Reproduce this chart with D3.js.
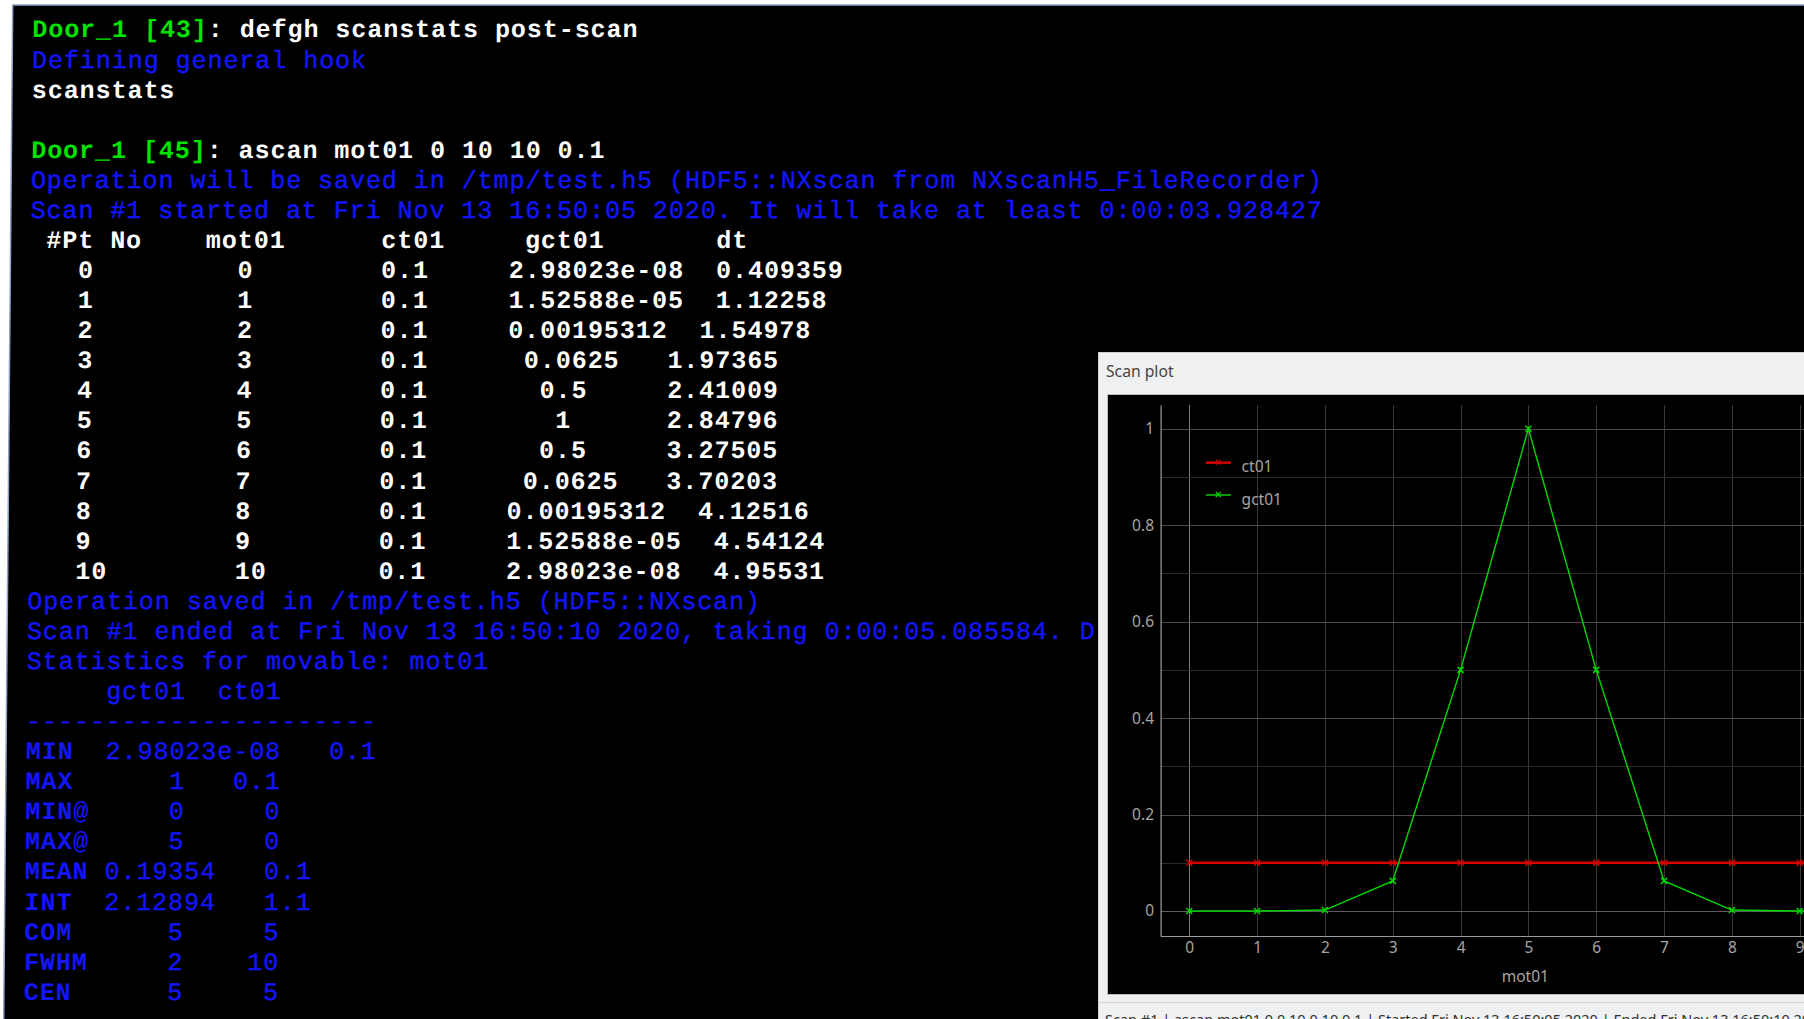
<!DOCTYPE html>
<html>
<head>
<meta charset="utf-8">
<script src="https://cdn.jsdelivr.net/npm/d3@7"></script>
<style>
  html, body { margin: 0; padding: 0; background: #ffffff; overflow: hidden; }
  svg { display: block; }
  .term text { font-family: "Liberation Mono", "DejaVu Sans Mono", monospace; font-size: 25px; letter-spacing: 0.95px; white-space: pre; }
  .g { fill: #00e400; font-weight: bold; }
  .w { fill: #ffffff; font-weight: bold; }
  .b { fill: #1414ff; stroke: #1414ff; stroke-width: 0.4px; }
  .bb { fill: #1414ff; font-weight: bold; }
  .ui { font-family: "Noto Sans", "Open Sans", sans-serif; }
</style>
</head>
<body>
<svg id="chart" width="1804" height="1019"></svg>
<script>
const W = 1804, H = 1019;

// ---- scan data (ascan mot01 0 10 10 0.1) ----
const pointNo  = [0, 1, 2, 3, 4, 5, 6, 7, 8, 9, 10];
const mot01    = [0, 1, 2, 3, 4, 5, 6, 7, 8, 9, 10];
const ct01Text = ["0.1", "0.1", "0.1", "0.1", "0.1", "0.1", "0.1", "0.1", "0.1", "0.1", "0.1"];
const gct01Text = ["2.98023e-08", "1.52588e-05", "0.00195312", "0.0625", "0.5", "1",
                   "0.5", "0.0625", "0.00195312", "1.52588e-05", "2.98023e-08"];
const dtText   = ["0.409359", "1.12258", "1.54978", "1.97365", "2.41009", "2.84796",
                  "3.27505", "3.70203", "4.12516", "4.54124", "4.95531"];
const ct01  = ct01Text.map(Number);
const gct01 = gct01Text.map(Number);

// ---- scanstats summary ----
const statNames = ["MIN", "MAX", "MIN@", "MAX@", "MEAN", "INT", "COM", "FWHM", "CEN"];
const statGct   = ["2.98023e-08", "1", "0", "5", "0.19354", "2.12894", "5", "2", "5"];
const statCt    = ["0.1", "0.1", "0", "0", "0.1", "1.1", "5", "10", "5"];

// ---- plot ticks ----
const xTicks = [0, 1, 2, 3, 4, 5, 6, 7, 8, 9];
const yTicks = [0, 0.2, 0.4, 0.6, 0.8, 1];
const yGrid  = [0, 0.1, 0.2, 0.3, 0.4, 0.5, 0.6, 0.7, 0.8, 0.9, 1];
const xGrid  = [0, 1, 2, 3, 4, 5, 6, 7, 8, 9, 10];

const svg = d3.select("#chart");

// ---------- terminal ----------
const center = (s, w) => {
  const pad = Math.max(0, w - s.length), l = Math.floor(pad / 2);
  return " ".repeat(l) + s + " ".repeat(pad - l);
};
const rjust = (s, w) => " ".repeat(Math.max(0, w - s.length)) + s;
const ljust = (s, w) => s + " ".repeat(Math.max(0, w - s.length));
const row = cells => cells.map(c => center(c, 8)).join("  ");

const lines = [];
lines.push([["Door_1 [43]", "g"], [": defgh scanstats post-scan", "w"]]);
lines.push([["Defining general hook", "b"]]);
lines.push([["scanstats", "w"]]);
lines.push([]);
lines.push([["Door_1 [45]", "g"], [": ascan mot01 0 10 10 0.1", "w"]]);
lines.push([["Operation will be saved in /tmp/test.h5 (HDF5::NXscan from NXscanH5_FileRecorder)", "b"]]);
lines.push([["Scan #1 started at Fri Nov 13 16:50:05 2020. It will take at least 0:00:03.928427", "b"]]);
lines.push([[row(["#Pt No", "mot01", "ct01", "gct01", "dt"]), "w"]]);
pointNo.forEach((p, i) => {
  lines.push([[row([String(p), String(mot01[i]), ct01Text[i], gct01Text[i], dtText[i]]), "w"]]);
});
lines.push([["Operation saved in /tmp/test.h5 (HDF5::NXscan)", "b"]]);
lines.push([["Scan #1 ended at Fri Nov 13 16:50:10 2020, taking 0:00:05.085584. D", "b"]]);
lines.push([["Statistics for movable: mot01", "b"]]);
const statRows = statNames.map((n, i) => ljust(n, 4) + " " + rjust(statGct[i], 5) + "  " + rjust(statCt[i], 4));
const statHead = ljust("", 4) + " " + rjust("gct01", 5) + "  " + rjust("ct01", 4);
lines.push([[statHead, "b"]]);
lines.push([["-".repeat(d3.max(statRows, r => r.length)), "b"]]);
statNames.forEach((n, i) => {
  lines.push([[ljust(n, 4), "bb"], [statRows[i].slice(4), "b"]]);
});

const term = svg.append("g").attr("class", "term").attr("transform", "skewX(-0.51)");
term.append("rect").attr("x", 12.75).attr("y", 5).attr("width", 2000).attr("height", 1100).attr("fill", "#000");
term.append("path").attr("d", "M12.75,1100V5H2000").attr("fill", "none").attr("stroke", "#8ea4c6").attr("stroke-width", 1.5);

const lineY = i => 37.5 + 30.07 * i;
const tl = term.selectAll("text.line").data(lines).join("text")
  .attr("class", "line")
  .attr("x", 32.6)
  .attr("y", (d, i) => lineY(i))
  .attr("xml:space", "preserve");
tl.selectAll("tspan").data(d => d).join("tspan")
  .attr("class", d => d[1])
  .text(d => d[0]);

// ---------- scan plot window ----------
const win = svg.append("g").attr("class", "ui");
win.append("rect").attr("x", 1098.5).attr("y", 352.5).attr("width", 800).attr("height", 800)
  .attr("fill", "#eff0f1").attr("stroke", "#cfd0d1");
win.append("text").attr("x", 1106).attr("y", 376.5).attr("font-size", 15.7).attr("fill", "#454545").text("Scan plot");

const plotTop = 394.5, plotBottom = 994.5, plotLeft = 1107.5;
win.append("rect").attr("x", plotLeft).attr("y", plotTop).attr("width", 800).attr("height", plotBottom - plotTop)
  .attr("fill", "#000").attr("stroke", "#bcbcbc");
win.append("line").attr("x1", 1099).attr("x2", W).attr("y1", 1002.5).attr("y2", 1002.5).attr("stroke", "#d3d4d5");
win.append("text").attr("x", 1105).attr("y", 1025).attr("font-size", 14.5).attr("fill", "#303030")
  .text("Scan #1 | ascan mot01 0.0 10.0 10 0.1 | Started Fri Nov 13 16:50:05 2020 | Ended Fri Nov 13 16:50:10 2020");

const x = d3.scaleLinear().domain([-0.423, 10.42]).range([1160.6, 1896]);
const y = d3.scaleLinear().domain([-0.0518, 1.0491]).range([936, 405]);

const plot = win.append("g");
plot.append("clipPath").attr("id", "pclip").append("rect")
  .attr("x", x.range()[0]).attr("y", y.range()[1])
  .attr("width", W - x.range()[0]).attr("height", y.range()[0] - y.range()[1]);

// grid
const grid = plot.append("g").attr("clip-path", "url(#pclip)");
grid.selectAll("line.v").data(xGrid).join("line").attr("class", "v")
  .attr("x1", d => Math.round(x(d)) + 0.5).attr("x2", d => Math.round(x(d)) + 0.5)
  .attr("y1", y.range()[1]).attr("y2", y.range()[0])
  .attr("stroke", d => d % 10 === 0 ? "#7e7e7e" : "#383838").attr("stroke-width", 1);
grid.selectAll("line.h").data(yGrid).join("line").attr("class", "h")
  .attr("x1", x.range()[0]).attr("x2", x.range()[1])
  .attr("y1", d => Math.round(y(d)) + 0.5).attr("y2", d => Math.round(y(d)) + 0.5)
  .attr("stroke", (d, i) => i === 0 ? "#5e5e5e" : (i % 2 === 0 ? "#4a4a4a" : "#2a2a2a")).attr("stroke-width", 1);

// axes
const axisStyle = g => {
  g.select(".domain").attr("stroke", "#9c9c9c").attr("stroke-width", 1.2);
  g.selectAll(".tick line").remove();
  g.selectAll(".tick text").attr("fill", "#a6a6a6").attr("font-size", 15.5)
    .attr("font-family", "'Noto Sans', 'Open Sans', sans-serif");
};
plot.append("g").attr("transform", `translate(${x.range()[0]},0)`)
  .call(d3.axisLeft(y).tickValues(yTicks).tickFormat(d3.format("~g")).tickSize(0).tickSizeOuter(0).tickPadding(6.6))
  .call(axisStyle);
plot.append("g").attr("transform", `translate(0,${y.range()[0]})`)
  .call(d3.axisBottom(x).tickValues(xTicks).tickFormat(d3.format("d")).tickSize(0).tickSizeOuter(0).tickPadding(6.2))
  .call(axisStyle);
plot.append("text").attr("x", (x.range()[0] + x.range()[1]) / 2 - 3).attr("y", 982)
  .attr("text-anchor", "middle").attr("font-size", 15.5).attr("fill", "#a6a6a6").text("mot01");

// series
const series = [
  { name: "ct01",  values: ct01,  color: "#d60000", width: 2.4 },
  { name: "gct01", values: gct01, color: "#00d800", width: 1.4 }
];
const cross = "M-3,-3L3,3M-3,3L3,-3";
const data = plot.append("g").attr("clip-path", "url(#pclip)");
series.forEach(s => {
  const line = d3.line().x((d, i) => x(mot01[i])).y(d => y(d));
  data.append("path").datum(s.values).attr("d", line)
    .attr("fill", "none").attr("stroke", s.color).attr("stroke-width", s.width);
  data.selectAll(null).data(s.values).join("path")
    .attr("transform", (d, i) => `translate(${x(mot01[i])},${y(d)})`)
    .attr("d", cross).attr("stroke", s.color).attr("stroke-width", 1.5).attr("fill", "none");
});

// legend
const legend = plot.append("g");
series.forEach((s, i) => {
  const ly = 462.7 + i * 32.3;
  legend.append("line").attr("x1", 1205.7).attr("x2", 1231).attr("y1", ly).attr("y2", ly)
    .attr("stroke", s.color).attr("stroke-width", s.width);
  legend.append("path").attr("transform", `translate(1218.3,${ly})`).attr("d", "M-2.5,-3L2.5,2M-2.5,2L2.5,-3")
    .attr("stroke", s.color).attr("stroke-width", 1.2).attr("fill", "none");
  legend.append("text").attr("x", 1241.6).attr("y", ly + 9.6).attr("font-size", 15.5)
    .attr("fill", "#a6a6a6").text(s.name);
});
</script>
</body>
</html>
